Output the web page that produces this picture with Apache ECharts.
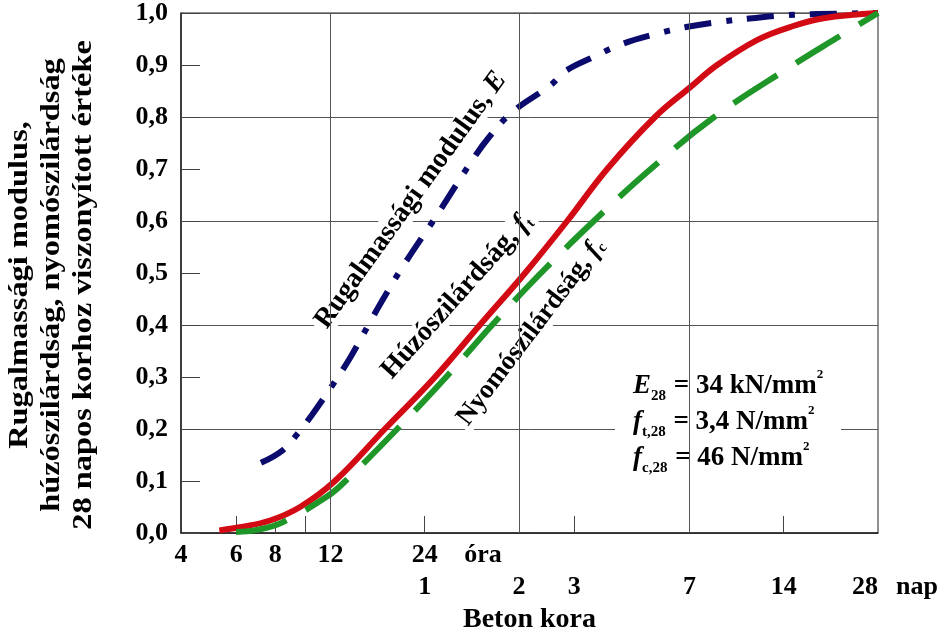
<!DOCTYPE html>
<html><head><meta charset="utf-8">
<script src="https://cdn.jsdelivr.net/npm/echarts@6/dist/echarts.min.js"></script>
<style>html,body{margin:0;padding:0;background:#fff}#c{width:944px;height:634px}</style>
</head><body><div id="c"></div>
<script>
// x in hours (log scale), y relative to 28-day value
const hourTickValues = [6, 8, 10, 12, 24, 48, 72, 168, 336];
const hourLabels = [4, 6, 8, 12, 24];
const dayLabels = [1, 2, 3, 7, 14, 28];
const gridHours = [12, 48, 168];

const eHours  = [7.2, 8.4, 9.4, 10.5, 12.2, 13.9, 15.8, 17.6, 20.4, 26.3, 33.8, 38.6, 45.8, 60.8, 67.4, 82.7, 102, 128, 164, 210, 267, 345, 432, 672];
const eValues = [0.135, 0.158, 0.19, 0.228, 0.285, 0.338, 0.398, 0.448, 0.512, 0.612, 0.714, 0.762, 0.81, 0.862, 0.888, 0.915, 0.94, 0.958, 0.973, 0.983, 0.99, 0.996, 0.998, 1.0];

const ftHours  = [5.3, 6.15, 7.7, 9.6, 12.4, 17.9, 25.9, 36.0, 50.2, 68.4, 91.8, 130.5, 168, 206, 276, 352, 450, 672];
const ftValues = [0.005, 0.011, 0.024, 0.05, 0.1, 0.2, 0.3, 0.4, 0.5, 0.6, 0.7, 0.8, 0.856, 0.9, 0.948, 0.973, 0.99, 1.0];

const fcHours  = [6.0, 7.0, 8.4, 11.7, 13.4, 19.6, 28.1, 39.4, 56.4, 83.2, 126.4, 201.6, 360, 490, 672];
const fcValues = [0.002, 0.006, 0.02, 0.07, 0.1, 0.2, 0.3, 0.4, 0.5, 0.6, 0.7, 0.8, 0.9, 0.95, 1.0];

const NAVY = '#0b0b6e', RED = '#d20a14', GREEN = '#1e9628';
const SERIF = "'Liberation Serif', 'Times New Roman', serif";

const zip = (xs, ys) => xs.map((x, i) => [x, ys[i]]);

const chart = echarts.init(document.getElementById('c'), null, {renderer: 'canvas'});

function richSet(prefix, color) {
  const o = {};
  o[prefix + 'i'] = {fontFamily: SERIF, fontSize: 27, fontWeight: 'bold', fontStyle: 'italic', color: color};
  o[prefix + 's'] = {fontFamily: SERIF, fontSize: 15, fontWeight: 'bold', color: color, verticalAlign: 'bottom', padding: [0, 1, 0, 0]};
  o[prefix + 't'] = {fontFamily: SERIF, fontSize: 27, fontWeight: 'bold', color: color};
  o[prefix + 'p'] = {fontFamily: SERIF, fontSize: 13, fontWeight: 'bold', color: color, verticalAlign: 'top'};
  return o;
}
const legendRich = Object.assign({}, richSet('E', NAVY), richSet('F', RED), richSet('G', GREEN));
const labelFont = {fontFamily: SERIF, fontSize: 26, fontWeight: 'bold', color: '#000'};

const option = {
  animation: false,
  backgroundColor: '#fff',
  grid: {left: 181, right: 66, top: 13, bottom: 101, outerBoundsMode: 'none', containLabel: false,
         show: true, borderColor: '#222', borderWidth: 1, backgroundColor: 'transparent'},
  xAxis: [
    {
      type: 'log', logBase: 10, min: 4, max: 672, position: 'bottom',
      axisLine: {show: true, lineStyle: {color: '#222', width: 1.5}},
      axisTick: {show: true, inside: true, length: 17, customValues: hourTickValues, lineStyle: {color: '#444', width: 1}},
      axisLabel: Object.assign({show: true, customValues: hourLabels, margin: 9}, labelFont),
      splitLine: {show: false}, minorTick: {show: false}, minorSplitLine: {show: false}
    },
    {
      type: 'log', logBase: 10, min: 4, max: 672, position: 'bottom',
      axisLine: {show: false}, axisTick: {show: false},
      axisLabel: Object.assign({show: true, customValues: dayLabels.map(d => d * 24), formatter: v => String(Math.round(v / 24)), margin: 41, alignMaxLabel: 'right'}, labelFont),
      splitLine: {show: false},
      name: 'Beton kora', nameLocation: 'middle', nameGap: 73,
      nameTextStyle: {fontFamily: SERIF, fontSize: 28, fontWeight: 'bold', color: '#000'}
    }
  ],
  yAxis: [
    {
      type: 'value', min: 0, max: 1, interval: 0.1,
      axisLine: {show: true, lineStyle: {color: '#222', width: 1.5}},
      axisTick: {show: true, inside: true, length: 19, lineStyle: {color: '#444', width: 1}},
      axisLabel: Object.assign({formatter: v => v.toFixed(1).replace('.', ','), margin: 13}, labelFont),
      splitLine: {show: false}
    },
    {
      type: 'value', min: 0, max: 1, interval: 0.2,
      axisLine: {show: false}, axisTick: {show: false}, axisLabel: {show: false},
      splitLine: {show: true, lineStyle: {color: '#555', width: 1}}
    }
  ],
  series: [
    {
      type: 'line', name: 'grid', data: [], z: 1, silent: true,
      markLine: {
        silent: true, symbol: 'none', label: {show: false},
        lineStyle: {color: '#555', width: 1, type: 'solid'},
        data: gridHours.map(h => ({xAxis: h}))
      }
    },
    {
      type: 'line', name: 'E', data: zip(eHours, eValues), smooth: 0.4, symbol: 'none', z: 3,
      lineStyle: {color: NAVY, width: 6, type: [27, 15, 6, 15], cap: 'butt'}
    },
    {
      type: 'line', name: 'ft', data: zip(ftHours, ftValues), smooth: 0.4, symbol: 'none', z: 3,
      lineStyle: {color: RED, width: 6, type: 'solid'}
    },
    {
      type: 'line', name: 'fc', data: zip(fcHours, fcValues), smooth: 0.4, symbol: 'none', z: 4,
      lineStyle: {color: GREEN, width: 6, type: [52, 22], cap: 'butt'}
    }
  ],
  graphic: [
    {
      type: 'text', x: 52, y: 285, rotation: Math.PI / 2, scaleX: 1.2, scaleY: 1, z: 5,
      style: {
        text: 'Rugalmassági modulus,\nhúzószilárdság, nyomószilárdság\n28 napos korhoz viszonyított értéke',
        fontFamily: SERIF, fontSize: 27, fontWeight: 'bold', fill: '#000', lineHeight: 32,
        align: 'center', verticalAlign: 'middle'
      }
    },
    {type: 'text', x: 483, y: 555, z: 5, style: {text: 'óra', fontFamily: SERIF, fontSize: 26, fontWeight: 'bold', fill: '#000', align: 'center', verticalAlign: 'middle'}},
    {type: 'text', x: 917, y: 587, z: 5, style: {text: 'nap', fontFamily: SERIF, fontSize: 26, fontWeight: 'bold', fill: '#000', align: 'center', verticalAlign: 'middle'}},
    {
      type: 'text', x: 411, y: 200, rotation: 54.3 * Math.PI / 180, z: 2,
      style: {
        text: '{a|Rugalmassági modulus, }{b|E}',
        rich: {
          a: {fontFamily: SERIF, fontSize: 28, fontWeight: 'bold', color: NAVY},
          b: {fontFamily: SERIF, fontSize: 28, fontWeight: 'bold', fontStyle: 'italic', color: NAVY}
        },
        align: 'center', verticalAlign: 'middle', backgroundColor: '#fff', padding: [0, 4]
      }
    },
    {
      type: 'text', x: 457, y: 296, rotation: 48.2 * Math.PI / 180, z: 2,
      style: {
        text: '{a|Húzószilárdság, }{b|f}{c|t}',
        rich: {
          a: {fontFamily: SERIF, fontSize: 28, fontWeight: 'bold', color: RED},
          b: {fontFamily: SERIF, fontSize: 28, fontWeight: 'bold', fontStyle: 'italic', color: RED},
          c: {fontFamily: SERIF, fontSize: 15, fontWeight: 'bold', color: RED, verticalAlign: 'bottom'}
        },
        align: 'center', verticalAlign: 'middle', backgroundColor: '#fff', padding: [0, 4]
      }
    },
    {
      type: 'text', x: 531, y: 332, rotation: 52.8 * Math.PI / 180, z: 2,
      style: {
        text: '{a|Nyomószilárdság, }{b|f}{c|c}',
        rich: {
          a: {fontFamily: SERIF, fontSize: 27, fontWeight: 'bold', color: GREEN},
          b: {fontFamily: SERIF, fontSize: 27, fontWeight: 'bold', fontStyle: 'italic', color: GREEN},
          c: {fontFamily: SERIF, fontSize: 15, fontWeight: 'bold', color: GREEN, verticalAlign: 'bottom'}
        },
        align: 'center', verticalAlign: 'middle', backgroundColor: '#fff', padding: [0, 4]
      }
    },
    {type: 'rect', z: 2, shape: {x: 615, y: 348, width: 226, height: 160}, style: {fill: '#fff'}},
    {
      type: 'text', x: 633, y: 422, z: 5,
      style: {
        text: '{Ei|E}{Es|28}{Et| = 34 kN/mm}{Ep|2}\n{Fi|f}{Fs|t,28}{Ft| = 3,4 N/mm}{Fp|2}\n{Gi|f}{Gs|c,28}{Gt| = 46 N/mm}{Gp|2}',
        rich: legendRich, lineHeight: 36,
        align: 'left', verticalAlign: 'middle'
      }
    }
  ]
};
chart.setOption(option);
</script>
</body></html>
